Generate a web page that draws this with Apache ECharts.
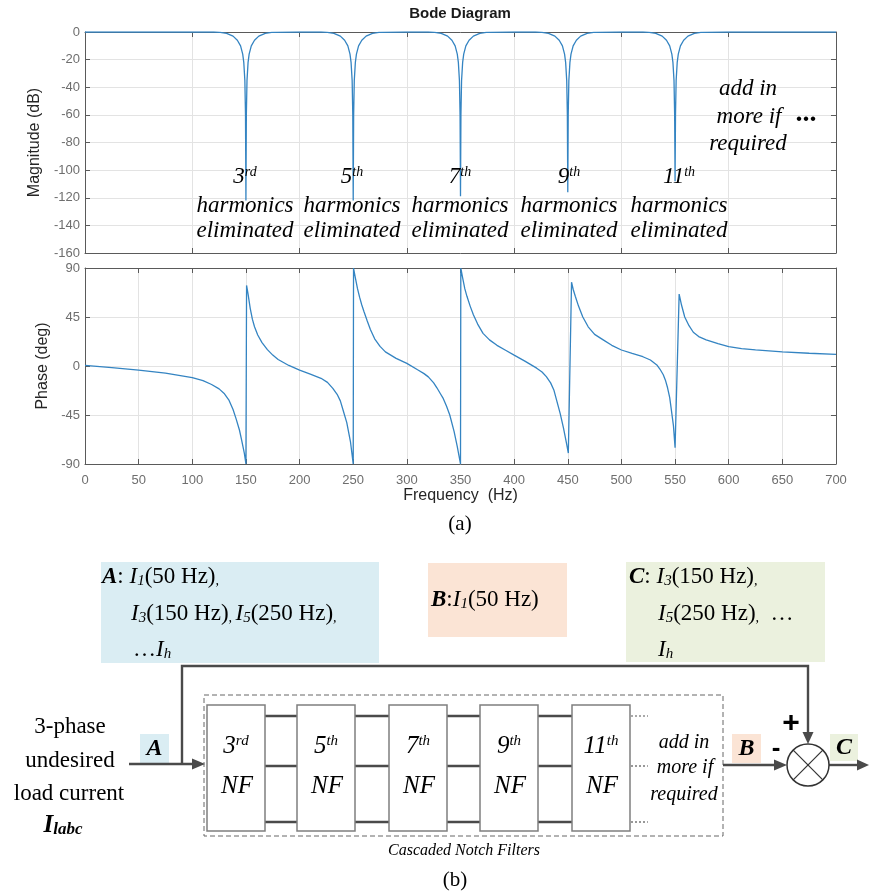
<!DOCTYPE html>
<html>
<head>
<meta charset="utf-8">
<script src="https://cdn.jsdelivr.net/npm/echarts@6/dist/echarts.min.js"></script>
<style>
html, body { margin: 0; padding: 0; background: #fff; }
#chart { width: 869px; height: 892px; }
</style>
</head>
<body>
<div id="chart"></div>
<script>
// magnitude response: [Hz, dB]
var magnitude = [
    [0, 0], [120, 0],
    [126, -0.3], [132, -1], [138, -3], [142, -6], [145, -10], [147, -16], [148, -22], [149, -35], [149.6, -60], [150, -122],
    [150.4, -60], [151, -35], [152, -22], [153, -16], [155, -10], [158, -6], [162, -3], [168, -1], [174, -0.3],
    [200, 0], [220, 0],
    [226, -0.3], [232, -1], [238, -3], [242, -6], [245, -10], [247, -16], [248, -22], [249, -35], [249.6, -60], [250, -122],
    [250.4, -60], [251, -35], [252, -22], [253, -16], [255, -10], [258, -6], [262, -3], [268, -1], [274, -0.3],
    [300, 0], [320, 0],
    [326, -0.3], [332, -1], [338, -3], [342, -6], [345, -10], [347, -16], [348, -22], [349, -35], [349.6, -60], [350, -119],
    [350.4, -60], [351, -35], [352, -22], [353, -16], [355, -10], [358, -6], [362, -3], [368, -1], [374, -0.3],
    [400, 0], [420, 0],
    [426, -0.3], [432, -1], [438, -3], [442, -6], [445, -10], [447, -16], [448, -22], [449, -35], [449.6, -60], [450, -116],
    [450.4, -60], [451, -35], [452, -22], [453, -16], [455, -10], [458, -6], [462, -3], [468, -1], [474, -0.3],
    [500, 0], [520, 0],
    [526, -0.3], [532, -1], [538, -3], [542, -6], [545, -10], [547, -16], [548, -22], [549, -35], [549.6, -60], [550, -108],
    [550.4, -60], [551, -35], [552, -22], [553, -16], [555, -10], [558, -6], [562, -3], [568, -1], [574, -0.3],
    [600, 0], [700, 0]
];

// phase response: [Hz, deg]
var phase = [
    [0, 0.5], [25, -1.5], [50, -3.7], [75, -6.5], [100, -10.7], [110, -13.5], [118, -17], [125, -21], [130, -25.5],
    [134, -31], [138, -40], [141, -49], [144, -59], [146, -68], [148.5, -80], [150, -90],
    [150.6, 74], [152, 66], [154, 53], [156, 43], [158, 36], [161, 28.5], [165, 21.5], [170, 15], [175, 10],
    [180, 6], [190, 0.5], [200, -3.7], [210, -7.5], [220, -11.3], [226, -15], [231, -20.5], [235, -26],
    [238, -32], [241, -42], [244, -52], [247.5, -70], [250, -90],
    [250.3, 90], [252, 81], [254, 71], [256, 63], [258, 56], [260, 50], [263, 41.5], [266, 33.5], [270, 25],
    [275, 18], [280, 13], [290, 7], [300, 2.4], [310, -3.5], [316, -7], [320, -10], [325, -15.5], [328, -20],
    [331, -25], [334, -30], [337, -37], [340, -45], [344, -60], [347, -74], [350, -90],
    [350.3, 90], [352, 81], [354, 71], [356, 64], [359, 55], [362, 47], [366, 38.5], [371, 30], [377, 24],
    [384, 19], [392, 14.5], [400, 10], [410, 4.5], [421, -2], [426, -5.5], [430, -9.8], [434, -15.5],
    [437, -22], [440, -33], [443, -44], [446, -57], [449, -72], [450.5, -80],
    [453.5, 77], [455, 70.5], [457, 64], [460, 55], [464, 45], [469, 36], [475, 29], [483, 24], [491, 19],
    [500, 14.7], [510, 11.5], [520, 8.5], [527, 5.5], [533, 1], [536, -3], [539, -8], [541, -13], [543, -20],
    [545, -29], [546.5, -40], [548.5, -55], [550, -75],
    [553.8, 66], [556, 56], [559, 45], [563, 37], [567, 31], [572, 27], [579, 24], [590, 20.5], [600, 17.7],
    [612, 16], [625, 14.8], [650, 13], [675, 11.7], [700, 10.7]
];

var harmonicOrder = ['3', '5', '7', '9', '11'];
var harmonicSuffix = ['rd', 'th', 'th', 'th', 'th'];

var sans = '"Liberation Sans", Arial, sans-serif';
var serif = '"Liberation Serif", "Times New Roman", serif';
var axisColor = '#5a5a5a';
var labelColor = '#6e6e6e';
var gridColor = '#e3e3e3';
var lineColor = '#3484c2';
var wireColor = '#4a4a4a';

function xAx(grid, pos, interval, withLabels, name) {
    return {
        type: 'value', gridIndex: grid, position: pos, min: 0, max: 700, interval: interval,
        axisLine: { show: true, onZero: false, lineStyle: { color: axisColor, width: 1 } },
        axisTick: { show: true, inside: true, length: 5, lineStyle: { color: axisColor } },
        axisLabel: { show: withLabels, margin: 10, color: labelColor, fontSize: 13, fontFamily: sans },
        splitLine: { show: pos === 'bottom', lineStyle: { color: gridColor, width: 1 } },
        name: name || '', nameLocation: 'middle', nameGap: 21,
        nameTextStyle: { color: '#262626', fontSize: 16, fontFamily: sans }
    };
}

function yAx(grid, pos, min, max, interval, name, gap) {
    return {
        type: 'value', gridIndex: grid, position: pos, min: min, max: max, interval: interval,
        axisLine: { show: true, onZero: false, lineStyle: { color: axisColor, width: 1 } },
        axisTick: { show: true, inside: true, length: 5, lineStyle: { color: axisColor } },
        axisLabel: { show: pos === 'left', margin: 5, color: labelColor, fontSize: 13, fontFamily: sans },
        splitLine: { show: pos === 'left', lineStyle: { color: gridColor, width: 1 } },
        name: name || '', nameLocation: 'middle', nameGap: gap || 0,
        nameTextStyle: { color: '#262626', fontSize: 16, fontFamily: sans }
    };
}

function text(x, y, str, font, align, rich) {
    return {
        type: 'text', x: x, y: y, silent: true, z: 20,
        style: { text: str, font: font, fill: '#000', align: align || 'center', verticalAlign: 'middle', rich: rich }
    };
}
function seg(points, width, color, dash, z) {
    return {
        type: 'polyline', silent: true, z: z || 10,
        shape: { points: points },
        style: { stroke: color || wireColor, lineWidth: width || 2.4, fill: null, lineDash: dash || null }
    };
}
function box(x, y, w, h, fill, stroke, width, dash, z) {
    return {
        type: 'rect', silent: true, z: z || 5,
        shape: { x: x, y: y, width: w, height: h },
        style: { fill: fill || 'none', stroke: stroke || null, lineWidth: width || 1, lineDash: dash || null }
    };
}
function arrow(points) {
    return { type: 'polygon', silent: true, z: 12, shape: { points: points }, style: { fill: wireColor } };
}

var shapes = [];

// annotations on the magnitude plot
var supRich = {
    n: { font: 'italic 23px ' + serif },
    s: { font: 'italic 14px ' + serif, verticalAlign: 'top' }
};
var noteX = [245, 352, 460, 569, 679];
harmonicOrder.forEach(function (h, i) {
    shapes.push(text(noteX[i], 177, '{n|' + h + '}{s|' + harmonicSuffix[i] + '}', 'italic 23px ' + serif, 'center', supRich));
    shapes.push(text(noteX[i], 206, 'harmonics', 'italic 23px ' + serif));
    shapes.push(text(noteX[i], 231, 'eliminated', 'italic 23px ' + serif));
});
shapes.push(text(748, 89, 'add in', 'italic 23px ' + serif));
shapes.push(text(749, 117, 'more if', 'italic 23px ' + serif));
shapes.push(text(748, 144, 'required', 'italic 23px ' + serif));
shapes.push(text(806, 114, '...', 'bold 28px ' + serif));
shapes.push(text(460, 524, '(a)', '21px ' + serif));

// block diagram
var rich = {
    b: { font: 'italic bold 23px ' + serif },
    t: { font: '23px ' + serif },
    i: { font: 'italic 23px ' + serif },
    s: { font: 'italic 15px ' + serif, verticalAlign: 'bottom' },
    c: { font: 'italic 14px ' + serif, verticalAlign: 'bottom' }
};
shapes.push(box(101, 562, 278, 101, '#daedf3'));
shapes.push(box(428, 563, 139, 74, '#fbe4d5'));
shapes.push(box(626, 562, 199, 100, '#ebf1de'));
shapes.push(text(102, 577, '{b|A}{t|: }{i|I}{s|1}{t|(50 Hz)}{c|,}', '23px ' + serif, 'left', rich));
shapes.push(text(131, 614, '{i|I}{s|3}{t|(150 Hz)}{c|, }{i|I}{s|5}{t|(250 Hz)}{c|,}', '23px ' + serif, 'left', rich));
shapes.push(text(133, 650, '{t|…}{i|I}{s|h}', '23px ' + serif, 'left', rich));
shapes.push(text(431, 600, '{b|B}{t|:}{i|I}{s|1}{t|(50 Hz)}', '23px ' + serif, 'left', rich));
shapes.push(text(629, 577, '{b|C}{t|: }{i|I}{s|3}{t|(150 Hz)}{c|,}', '23px ' + serif, 'left', rich));
shapes.push(text(658, 614, '{i|I}{s|5}{t|(250 Hz)}{c|,}{t|  …}', '23px ' + serif, 'left', rich));
shapes.push(text(658, 650, '{i|I}{s|h}', '23px ' + serif, 'left', rich));

shapes.push(text(70, 727, '3-phase', '23px ' + serif));
shapes.push(text(70, 761, 'undesired', '23px ' + serif));
shapes.push(text(69, 794, 'load current', '23px ' + serif));
shapes.push(text(63, 826, '{b|I}{s|labc}', 'bold italic 25px ' + serif, 'center', {
    b: { font: 'italic bold 25px ' + serif },
    s: { font: 'italic bold 17px ' + serif, verticalAlign: 'bottom' }
}));

shapes.push(box(140, 734, 29, 29, '#daedf3'));
shapes.push(text(154.5, 749, 'A', 'italic bold 24px ' + serif));
shapes.push(box(732, 734, 29, 29, '#fbe4d5'));
shapes.push(text(746.5, 749, 'B', 'italic bold 24px ' + serif));
shapes.push(box(830, 734, 28, 27, '#ebf1de'));
shapes.push(text(844, 748, 'C', 'italic bold 24px ' + serif));

// wires
shapes.push(seg([[129, 764], [196, 764]]));
shapes.push(arrow([[192, 758.5], [192, 769.5], [205, 764]]));
shapes.push(seg([[182, 764], [182, 666], [808, 666], [808, 735]]));
shapes.push(arrow([[802.5, 732], [813.5, 732], [808, 744]]));
shapes.push(seg([[723, 765], [778, 765]]));
shapes.push(arrow([[774, 759.5], [774, 770.5], [787, 765]]));
shapes.push(seg([[829, 765], [860, 765]]));
shapes.push(arrow([[857, 759.5], [857, 770.5], [869, 765]]));

// summing junction
shapes.push({
    type: 'circle', silent: true, z: 11,
    shape: { cx: 808, cy: 765, r: 21 },
    style: { fill: '#fff', stroke: '#333', lineWidth: 1.5 }
});
shapes.push(seg([[793.2, 750.2], [822.8, 779.8]], 1.2, '#333', null, 13));
shapes.push(seg([[822.8, 750.2], [793.2, 779.8]], 1.2, '#333', null, 13));
shapes.push(text(791, 724, '+', 'bold 30px ' + sans));
shapes.push(text(776, 749, '-', 'bold 26px ' + sans));

// cascaded notch filters
shapes.push(box(204, 695, 519, 141, 'none', '#666', 1, [5, 3], 4));
[716, 766, 822].forEach(function (y) {
    shapes.push(seg([[207, y], [630, y]], 2.4, wireColor));
    shapes.push(seg([[631, y], [648, y]], 1.2, '#555', [2, 2]));
});
var nfLeft = [207, 297, 389, 480, 572];
var nfRich = {
    n: { font: 'italic 25px ' + serif },
    s: { font: 'italic 15px ' + serif, verticalAlign: 'top' }
};
harmonicOrder.forEach(function (h, i) {
    var x = nfLeft[i];
    shapes.push(box(x, 705, 58, 126, '#fff', '#7f7f7f', 1.5, null, 15));
    shapes.push(text(x + 29, 746, '{n|' + h + '}{s|' + harmonicSuffix[i] + '}', 'italic 25px ' + serif, 'center', nfRich));
    shapes.push(text(x + 30, 786, 'NF', 'italic 25px ' + serif));
});
shapes.push(text(684, 743, 'add in', 'italic 20px ' + serif));
shapes.push(text(685, 768, 'more if', 'italic 20px ' + serif));
shapes.push(text(684, 795, 'required', 'italic 20px ' + serif));
shapes.push(text(464, 851, 'Cascaded Notch Filters', 'italic 16px ' + serif));
shapes.push(text(455, 880, '(b)', '21px ' + serif));

var myChart = echarts.init(document.getElementById('chart'));
var option = {
    animation: false,
    backgroundColor: '#fff',
    title: {
        text: 'Bode Diagram', left: 460, top: 6, padding: 0, textAlign: 'center',
        textStyle: { fontFamily: sans, fontSize: 15, fontWeight: 'bold', color: '#1a1a1a' }
    },
    grid: [
        { left: 85, top: 32, width: 751, height: 221 },
        { left: 85, top: 268, width: 751, height: 196 }
    ],
    xAxis: [
        xAx(0, 'bottom', 100, false),
        xAx(0, 'top', 100, false),
        xAx(1, 'bottom', 50, true, 'Frequency  (Hz)'),
        xAx(1, 'top', 50, false)
    ],
    yAxis: [
        yAx(0, 'left', -160, 0, 20, 'Magnitude (dB)', 40),
        yAx(0, 'right', -160, 0, 20),
        yAx(1, 'left', -90, 90, 45, 'Phase (deg)', 32),
        yAx(1, 'right', -90, 90, 45)
    ],
    series: [
        {
            name: 'Magnitude', type: 'line', xAxisIndex: 0, yAxisIndex: 0,
            data: magnitude, showSymbol: false, symbol: 'none',
            lineStyle: { color: lineColor, width: 1.3 }
        },
        {
            name: 'Phase', type: 'line', xAxisIndex: 2, yAxisIndex: 2,
            data: phase, showSymbol: false, symbol: 'none',
            lineStyle: { color: lineColor, width: 1.3 }
        }
    ],
    graphic: shapes
};
myChart.setOption(option);
</script>
</body>
</html>
